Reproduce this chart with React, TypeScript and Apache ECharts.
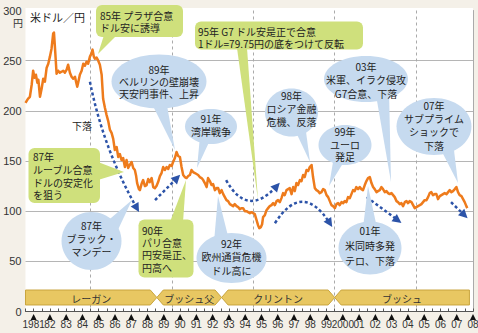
import React, { useEffect, useRef } from "react";
import * as echarts from "echarts";

// decimal year of each reading, and USD/JPY value
const times = [
  1981.0, 1981.15, 1981.27, 1981.38, 1981.47, 1981.55, 1981.64, 1981.73, 1981.79, 1981.89, 1981.99,
  1982.09, 1982.19, 1982.3, 1982.4, 1982.5, 1982.6, 1982.7, 1982.75, 1982.83, 1982.91,
  1983.01, 1983.11, 1983.22, 1983.32, 1983.42, 1983.53, 1983.62, 1983.73, 1983.83, 1983.93,
  1984.04, 1984.12, 1984.18, 1984.25, 1984.34, 1984.45, 1984.55, 1984.65, 1984.75, 1984.85, 1984.96,
  1985.05, 1985.12, 1985.2, 1985.26, 1985.37, 1985.47, 1985.57, 1985.68, 1985.77, 1985.88, 1985.98,
  1986.08, 1986.19, 1986.29, 1986.39, 1986.49, 1986.6, 1986.7, 1986.8, 1986.9, 1987.0,
  1987.11, 1987.21, 1987.31, 1987.41, 1987.52, 1987.62, 1987.72, 1987.8, 1987.86, 1987.97,
  1988.03, 1988.13, 1988.23, 1988.34, 1988.44, 1988.54, 1988.64, 1988.75, 1988.85, 1988.95,
  1989.05, 1989.15, 1989.26, 1989.36, 1989.46, 1989.56, 1989.67, 1989.77, 1989.87, 1989.98,
  1990.07, 1990.18, 1990.28, 1990.38, 1990.49, 1990.59, 1990.69, 1990.79, 1990.9, 1991.0,
  1991.1, 1991.2, 1991.3, 1991.41, 1991.51, 1991.61, 1991.71, 1991.82, 1991.92, 1992.02,
  1992.13, 1992.22, 1992.33, 1992.43, 1992.53, 1992.64, 1992.74, 1992.84, 1992.94, 1993.05,
  1993.15, 1993.25, 1993.35, 1993.45, 1993.56, 1993.66, 1993.76, 1993.86, 1993.97, 1994.07,
  1994.17, 1994.28, 1994.37, 1994.48, 1994.58, 1994.68, 1994.79, 1994.89, 1994.99, 1995.09,
  1995.2, 1995.29, 1995.37, 1995.46, 1995.54, 1995.6, 1995.71, 1995.81, 1995.91, 1996.01,
  1996.12, 1996.22, 1996.32, 1996.43, 1996.52, 1996.63, 1996.73, 1996.83, 1996.93, 1997.04,
  1997.14, 1997.24, 1997.35, 1997.45, 1997.55, 1997.65, 1997.75, 1997.86, 1997.96, 1998.06,
  1998.16, 1998.27, 1998.37, 1998.47, 1998.58, 1998.67, 1998.78, 1998.88, 1998.98, 1999.08,
  1999.19, 1999.29, 1999.39, 1999.5, 1999.6, 1999.7, 1999.8, 1999.9, 2000.01, 2000.11,
  2000.21, 2000.31, 2000.42, 2000.52, 2000.62, 2000.72, 2000.82, 2000.93, 2001.03, 2001.13,
  2001.23, 2001.33, 2001.44, 2001.54, 2001.64, 2001.74, 2001.85, 2001.95, 2002.05, 2002.16,
  2002.26, 2002.36, 2002.46, 2002.57, 2002.66, 2002.77, 2002.87, 2002.97, 2003.08, 2003.18,
  2003.28, 2003.38, 2003.49, 2003.59, 2003.69, 2003.8, 2003.89, 2004.0, 2004.1, 2004.2,
  2004.31, 2004.41, 2004.51, 2004.61, 2004.72, 2004.82, 2004.92, 2005.02, 2005.12, 2005.23,
  2005.33, 2005.43, 2005.53, 2005.64, 2005.74, 2005.84, 2005.94, 2006.04, 2006.15, 2006.25,
  2006.35, 2006.46, 2006.56, 2006.66, 2006.76, 2006.87, 2006.97, 2007.07, 2007.17, 2007.27,
  2007.38, 2007.48, 2007.58, 2007.68, 2007.79, 2007.89, 2007.99, 2008.09, 2008.15,
];
const usdJpy = [
  208, 212, 214, 226, 240, 233, 236, 228, 231, 214, 222,
  232, 229, 243, 247, 254, 262, 277, 278, 258, 237,
  240, 238, 239, 240, 238, 241, 246, 238, 234, 232,
  234, 228, 224, 229, 236, 240, 247, 245, 249, 247, 254,
  257, 261, 254, 252, 253, 250, 246, 236, 212, 203, 196,
  190, 181, 178, 172, 161, 164, 154, 157, 151, 153,
  144, 151, 143, 146, 149, 143, 141, 135, 128, 122,
  121, 127, 131, 125, 126, 132, 129, 133, 124, 123,
  125, 129, 135, 138, 144, 141, 144, 142, 146, 145,
  149, 153, 159, 155, 154, 144, 136, 134, 133, 135,
  136, 141, 139, 138, 137, 136, 134, 133, 131, 128,
  124, 133, 130, 126, 127, 121, 123, 123, 118, 121,
  117, 114, 111, 110, 107, 106, 105, 107, 105, 104,
  102, 103, 103, 100, 100, 99, 98, 99, 98, 97,
  91, 86, 83, 84, 87, 94, 96, 101, 103, 105,
  106, 108, 106, 110, 111, 109, 113, 118, 116, 121,
  122, 123, 117, 124, 120, 128, 126, 131, 130, 136,
  134, 141, 140, 144, 146, 134, 123, 121, 120, 118,
  119, 122, 121, 116, 114, 110, 106, 105, 103, 107,
  108, 106, 109, 108, 110, 109, 114, 113, 117, 121,
  120, 124, 122, 124, 122, 121, 126, 130, 133, 134,
  128, 124, 122, 119, 120, 121, 124, 122, 119, 120,
  118, 117, 118, 116, 114, 110, 109, 107, 108, 105,
  109, 110, 108, 110, 109, 106, 103, 104, 105, 106,
  107, 109, 111, 111, 114, 118, 119, 116, 117, 117,
  112, 115, 116, 117, 118, 117, 119, 121, 119, 120,
  122, 124, 119, 116, 115, 112, 109, 105, 103,
];

const yearLabels = [
  "1981", "82", "83", "84", "85", "86", "87", "88", "89", "90", "91", "92", "93", "94",
  "95", "96", "97", "98", "99", "2000", "01", "02", "03", "04", "05", "06", "07", "08",
];

const presidents = ["レーガン", "ブッシュ父", "クリントン", "ブッシュ"];
const presidentStart = [1981.0, 1989.07, 1993.05, 2000.0];
const presidentEnd = [1989.07, 1993.05, 2000.0, 2008.28];

// trend arrows: [year, value] from -> to, with curvature
const trendFrom = [[1984.96, 229], [1988.96, 111], [1993.33, 131], [1996.33, 88], [2001.97, 114], [2007.15, 109]];
const trendTo = [[1987.84, 103], [1990.31, 133], [1996.44, 125], [1999.7, 88], [2003.88, 91], [2007.97, 96]];
const trendCurve = [-0.08, 0, -0.7, 0.78, 0, 0];

const BG = "#f4f0e8";
const GREEN = "#cfe07c";
const BLUE = "#c6daef";
const JP = "'Noto Sans CJK JP', sans-serif";
const NUM = "'Liberation Sans', sans-serif";

function greenBox(x: number, y: number, w: number, h: number, ptr: number[][], text: string, tx: number, ty: number, lh: number) {
  return [
    { type: "polygon", z: 50, shape: { points: ptr }, style: { fill: GREEN } },
    { type: "rect", z: 50, shape: { x, y, width: w, height: h, r: 6 }, style: { fill: GREEN } },
    {
      type: "text", z: 51,
      style: { text, x: tx, y: ty, fill: "#222", fontSize: 10, fontFamily: JP, lineHeight: lh, align: "left", verticalAlign: "top" },
    },
  ];
}

function blueBubble(cx: number, cy: number, rx: number, ry: number, ptr: number[][], text: string, ty: number, lh: number) {
  return [
    { type: "polygon", z: 50, shape: { points: ptr }, style: { fill: BLUE } },
    { type: "ellipse", z: 50, shape: { cx, cy, rx, ry }, style: { fill: BLUE } },
    {
      type: "text", z: 51,
      style: { text, x: cx, y: ty, fill: "#222", fontSize: 10, fontFamily: JP, lineHeight: lh, align: "center", verticalAlign: "top" },
    },
  ];
}

export default function App() {
  const ref = useRef<HTMLDivElement>(null);
  useEffect(() => {
    if (!ref.current) return;
    const chart = echarts.init(ref.current, null, { renderer: "svg" });

    const axisCats: string[] = [];
    yearLabels.forEach((lab, i) => {
      axisCats.push("s" + i);
      axisCats.push(lab);
    });
    // axisCats: 1981.0, 1981.5, ..., 2008.0, 2008.5 (56 entries)

    const lineData = times.map((t, i) => [t, usdJpy[i]]);
    const presData = presidentStart.map((s, i) => [s, presidentEnd[i], i]);
    const trendData = trendFrom.map((f, i) => ({
      coords: [f, trendTo[i]],
      lineStyle: { curveness: trendCurve[i] },
    }));
    // year markers (triangles) with the year label under the axis, at mid-year
    const markerData = yearLabels.map((lab, i) => ({
      name: lab,
      value: [1981.5 + i, -5.5],
      label: i === yearLabels.length - 1 ? { offset: [-5, 0] } : undefined,
    }));

    const graphics: any[] = [
      { type: "rect", z: -100, silent: true, shape: { x: 25.5, y: 8, width: 447.5, height: 303.5 }, style: { fill: "#fff" } },
      { type: "text", z: 51, style: { text: "円", x: 13, y: 18, fill: "#333", fontSize: 10, fontFamily: JP } },
      { type: "text", z: 51, style: { text: "米ドル／円", x: 30, y: 12, fill: "#222", fontSize: 11, fontFamily: JP } },
      { type: "text", z: 51, style: { text: "下落", x: 72, y: 121, fill: "#222", fontSize: 10, fontFamily: JP } },
      ...greenBox(96, 5, 87, 32, [[104, 35], [117, 35], [98, 54]], "85年 プラザ合意\nドル安に誘導", 100, 9, 12),
      ...greenBox(195, 21.5, 168, 28, [[237, 48], [247, 48], [258, 200]], "95年 G7 ドル安是正で合意\n1ドル=79.75円の底をつけて反転", 198, 25.5, 12),
      ...greenBox(28.5, 148, 71.5, 55, [[98, 162], [98, 180], [124, 172]], "87年\nルーブル合意\nドルの安定化\nを狙う", 33, 150.5, 12.7),
      ...greenBox(138.5, 219.5, 55, 58, [[170, 222], [183, 222], [186, 180]], "90年\nパリ合意\n円安是正、\n円高へ", 142, 224, 12.3),
      ...blueBubble(159, 81.5, 47.5, 27, [[150, 100], [166, 100], [175, 150]], "89年\nベルリンの壁崩壊\n天安門事件、上昇", 63.5, 12),
      ...blueBubble(211, 126.5, 26, 17.5, [[200, 136], [211, 138], [197, 168]], "91年\n湾岸戦争", 112, 13),
      ...blueBubble(91.5, 241, 30, 29, [[104, 224], [116, 234], [132, 200]], "87年\nブラック・\nマンデー", 218.5, 13.3),
      ...blueBubble(231.5, 258, 35, 25, [[214, 242], [228, 236], [218, 196]], "92年\n欧州通貨危機\nドル高に", 237, 13.3),
      ...blueBubble(291.5, 112.5, 26.5, 24, [[294, 128], [305, 124], [310, 162]], "98年\nロシア金融\n危機、反落", 88.5, 13.3),
      ...blueBubble(345, 145, 26.5, 20, [[334, 156], [345, 160], [329, 186]], "99年\nユーロ\n発足", 125.5, 12.5),
      ...blueBubble(366, 79, 42, 23, [[376, 95], [389, 90], [391, 182]], "03年\n米軍、イラク侵攻\nG7合意、下落", 60, 13.3),
      ...blueBubble(434, 126.5, 37.5, 28.5, [[440, 148], [453, 142], [458, 183]], "07年\nサブプライム\nショックで\n下落", 98.5, 13.3),
      ...blueBubble(370, 248, 31.5, 26.5, [[363, 228], [377, 228], [368, 186]], "01年\n米同時多発\nテロ、下落", 222.5, 15),
    ];

    chart.setOption({
      animation: false,
      backgroundColor: BG,
      textStyle: { fontFamily: NUM },
      grid: { left: 25.5, right: 5, top: 10.5, bottom: 21.5, containLabel: false },
      xAxis: [
        {
          type: "category",
          data: axisCats,
          boundaryGap: false,
          axisLine: { lineStyle: { color: "#555", width: 1 } },
          axisTick: { inside: true, length: 3, interval: 0, lineStyle: { color: "#555" } },
          axisLabel: { show: false },
          splitLine: {
            show: true,
            interval: (i: number) => i % 10 === 8,
            lineStyle: { color: "#aaa", type: [3, 3], width: 1 },
          },
        },
        { type: "value", min: 1981, max: 2008.5, show: false },
      ],
      yAxis: [
        {
          type: "value",
          min: 0,
          max: 300,
          interval: 50,
          axisLine: { show: false },
          axisTick: { show: false },
          axisLabel: { fontSize: 11, color: "#333", margin: 4, fontFamily: NUM },
          splitLine: {
            lineStyle: {
              color: ["#888", "#b5b5b5", "#b5b5b5", "#b5b5b5", "#b5b5b5", "#b5b5b5", "rgba(0,0,0,0)"],
              width: 1,
            },
          },
        },
        {
          type: "value",
          min: 0,
          max: 300,
          position: "right",
          axisLine: { show: true, lineStyle: { color: "#aaa" } },
          axisTick: { show: false },
          axisLabel: { show: false },
          splitLine: { show: false },
        },
      ],
      series: [
        {
          type: "custom",
          xAxisIndex: 1,
          yAxisIndex: 0,
          z: 4,
          clip: false,
          data: presData,
          encode: { x: [0, 1] },
          renderItem: (params: any, api: any) => {
            const s = api.value(0);
            const e = api.value(1);
            const idx = params.dataIndex;
            const p0 = api.coord([s, 21.4]);
            const p1 = api.coord([e, 6.5]);
            const x0 = p0[0], x1 = p1[0], yt = p0[1], yb = p1[1];
            const ym = (yt + yb) / 2;
            const tip = 6.5;
            const leftFlat = idx === 0;
            const rightFlat = idx === presidents.length - 1;
            const pts: number[][] = [];
            pts.push([leftFlat ? x0 : x0 + tip, yt]);
            pts.push([rightFlat ? x1 : x1 - tip, yt]);
            if (!rightFlat) pts.push([x1, ym]);
            pts.push([rightFlat ? x1 : x1 - tip, yb]);
            pts.push([leftFlat ? x0 : x0 + tip, yb]);
            if (!leftFlat) pts.push([x0, ym]);
            return {
              type: "group",
              children: [
                { type: "polygon", shape: { points: pts }, style: { fill: "#e8c762", stroke: "#c9a53e", lineWidth: 1 } },
                {
                  type: "text",
                  style: {
                    text: presidents[idx], x: (x0 + x1) / 2, y: ym + 0.5, align: "center", verticalAlign: "middle",
                    fill: "#333", fontSize: 10, fontFamily: JP,
                  },
                },
              ],
            };
          },
        },
        {
          type: "scatter",
          xAxisIndex: 1,
          yAxisIndex: 0,
          clip: false,
          silent: true,
          symbol: "triangle",
          symbolSize: [6, 6],
          itemStyle: { color: "#111", opacity: 1 },
          label: {
            show: true,
            position: "bottom",
            distance: -0.5,
            formatter: "{b}",
            fontSize: 10,
            lineHeight: 10,
            color: "#333",
            fontFamily: NUM,
          },
          labelLayout: { hideOverlap: false },
          data: markerData,
          z: 7,
        },
        {
          type: "lines",
          coordinateSystem: "cartesian2d",
          xAxisIndex: 1,
          yAxisIndex: 0,
          z: 5,
          symbol: ["none", "triangle"],
          symbolSize: [0, 9],
          lineStyle: { color: "#2c53a8", width: 2.5, type: [3, 2.5], opacity: 1 },
          data: trendData,
        },
        {
          type: "line",
          xAxisIndex: 1,
          yAxisIndex: 0,
          z: 6,
          data: lineData,
          showSymbol: false,
          symbol: "none",
          lineStyle: { color: "#ee7b1c", width: 2.5, join: "round" },
        },
      ],
      graphic: graphics,
    });
    return () => chart.dispose();
  }, []);
  return <div ref={ref} style={{ position: "fixed", left: 0, top: 0, width: 478, height: 333 }} />;
}
